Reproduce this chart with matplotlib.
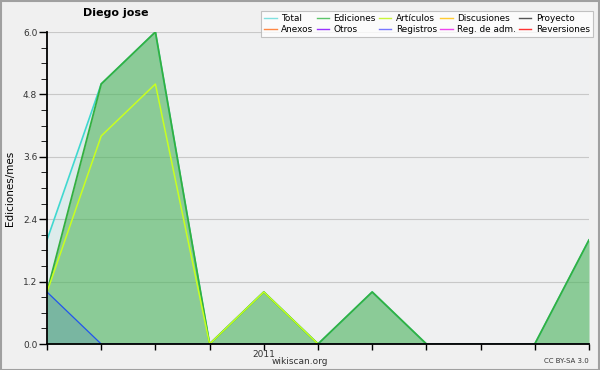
import matplotlib
matplotlib.use("Agg")
import matplotlib.pyplot as plt
from matplotlib.ticker import MultipleLocator
import numpy as np

# monthly values, Sep 2010 .. Jul 2011
months = ["2010-09", "2010-10", "2010-11", "2010-12", "2011-01", "2011-02",
          "2011-03", "2011-04", "2011-05", "2011-06", "2011-07"]
total = [2, 5, 6, 0, 1, 0, 1, 0, 0, 0, 2]
ediciones = [1, 5, 6, 0, 1, 0, 1, 0, 0, 0, 2]
articulos = [1, 4, 5, 0, 1, 0, 0, 0, 0, 0, 0]
registros = [1, 0, 0, 0, 0, 0, 0, 0, 0, 0, 0]

legend_names = ["Total", "Ediciones", "Artículos", "Discusiones", "Proyecto",
                "Anexos", "Otros", "Registros", "Reg. de adm.", "Reversiones"]
legend_colors = ["#7fe0df", "#5cc46a", "#c8f53a", "#ffcc33", "#555555",
                 "#ff8844", "#9933ff", "#7777ff", "#ee44ee", "#ff3333"]

plt.rcParams["font.family"] = "DejaVu Sans"

fig = plt.figure(figsize=(6, 3.7), dpi=100, facecolor="#f0f0f0")
ax = fig.add_axes([47/600, 1 - 344/370, 542/600, 312/370])
ax.set_facecolor("#eff0f1")

x = np.arange(len(months))

ax.fill_between(x, total, color="#40c8b8", alpha=0.1, lw=0, zorder=1)
ax.fill_between(x, ediciones, color="#50b45a", alpha=0.58, lw=0, zorder=2)
ax.fill_between(x, registros, color="#3366cc", alpha=0.2, lw=0, zorder=3)

ax.plot(x, total, color="#40d8d0", lw=1.2, zorder=4)
ax.plot(x, ediciones, color="#33b040", lw=1.3, zorder=5)
ax.plot(x, articulos, color="#c8ff20", lw=1.1, zorder=6)
ax.plot(x, registros, color="#2255ee", lw=0.9, zorder=7)

ax.set_xlim(0, len(months) - 1)
ax.set_ylim(0, 6)
ax.set_xticks(x)
ax.set_xticklabels(["2011" if m == "2011-01" else "" for m in months])
ax.yaxis.set_major_locator(MultipleLocator(1.2))
ax.yaxis.set_minor_locator(MultipleLocator(0.3))
ax.yaxis.set_major_formatter(matplotlib.ticker.FormatStrFormatter("%.1f"))
ax.tick_params(axis="both", labelsize=6.5, colors="black", labelcolor="#333333",
               width=1, pad=1)
ax.tick_params(axis="y", which="major", length=6)
ax.tick_params(axis="y", which="minor", length=4)
ax.tick_params(axis="x", length=4, pad=0)
ax.grid(axis="y", color="#c8c8c8", lw=0.8, zorder=0)
ax.set_axisbelow(True)
for s in ["top", "right"]:
    ax.spines[s].set_visible(False)
for s in ["left", "bottom"]:
    ax.spines[s].set_linewidth(1.3)
    ax.spines[s].set_zorder(10)

ax.set_ylabel("Ediciones/mes", fontsize=7.5, labelpad=6)
fig.text(116/600, 1 - 13/370, "Diego jose", fontsize=8, fontweight="bold",
         ha="center", va="center")
fig.text(300/600, 1 - 361/370, "wikiscan.org", fontsize=6.5, color="#333333",
         ha="center", va="center")
fig.text(589/600, 1 - 361/370, "CC BY-SA 3.0", fontsize=5, color="#333333",
         ha="right", va="center")

# legend filled row-wise like the original
handles = [plt.Line2D([], [], color=c, lw=1) for c in legend_colors]
order = [0, 5, 1, 6, 2, 7, 3, 8, 4, 9]
leg = fig.legend([handles[i] for i in order], [legend_names[i] for i in order],
                 ncol=5, loc="upper right", bbox_to_anchor=(593/600, 1 - 11/370),
                 fontsize=6.4, frameon=True, fancybox=False, edgecolor="#b4b4b4",
                 handlelength=1.4, handletextpad=0.5, columnspacing=0.35,
                 labelspacing=0.2, borderpad=0.35, borderaxespad=0)
leg.get_frame().set_linewidth(0.8)

# outer border
fig.patches.append(plt.Rectangle((0.001, 0.001), 0.997, 0.997, transform=fig.transFigure,
                                 fill=False, edgecolor="#a0a0a0", lw=1.5))

fig.savefig("out.png", dpi=100, facecolor=fig.get_facecolor())
